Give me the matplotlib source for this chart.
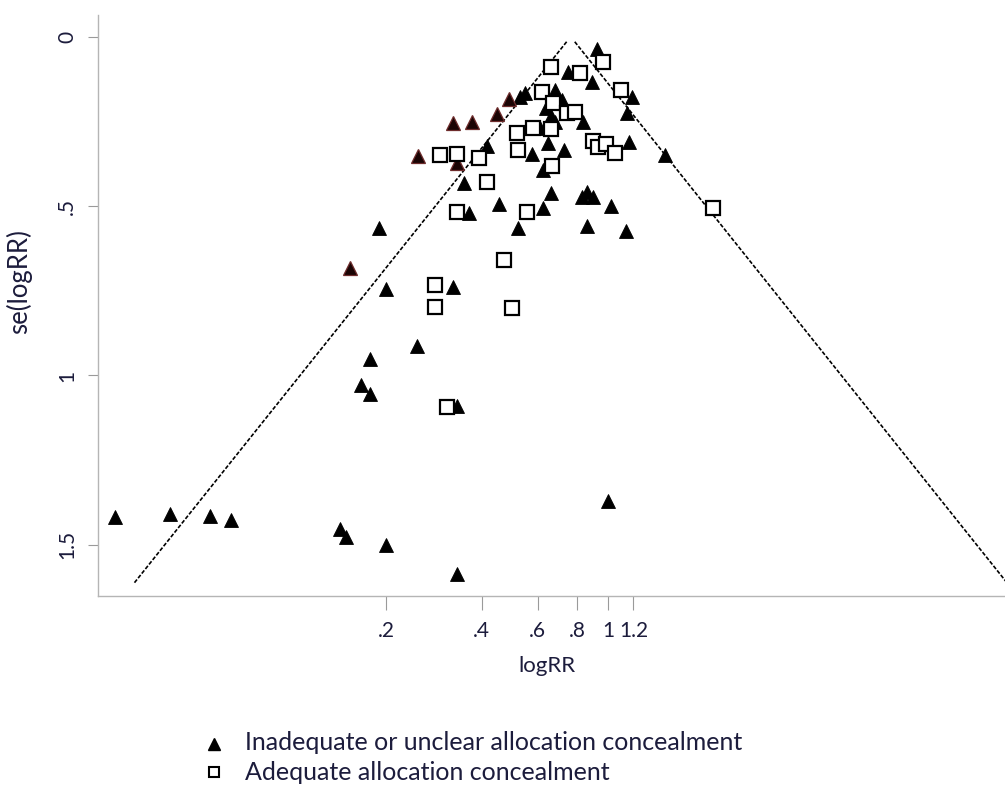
import numpy as np
import matplotlib
matplotlib.use("Agg")
import matplotlib.pyplot as plt
from matplotlib.lines import Line2D

# ---- data ----
# Inadequate or unclear allocation concealment (filled triangles)
inad_logrr = [-0.639, -0.603, -0.082, -0.292, -0.118, 0.172, 0.135,
              -0.386, -0.335, -0.451, -0.415, -0.386, -0.495, -0.183,
              -0.878, -1.045, -0.553, -0.437, -0.321, -0.473, 0.150, 0.411,
              -0.415, -0.190, -0.154, -0.111, 0.020, -0.473, -0.791, -1.009,
              -0.654, -0.154, 0.128, -1.660, -1.610, -1.125,
              -1.385, -1.726, -1.791, -1.726, -1.096,
              -3.572, -3.174, -2.884, -2.732, -1.943, -1.899, -1.610, -1.096,
              -0.002]
inad_se = [0.178, 0.166, 0.036, 0.104, 0.134, 0.178, 0.225,
           0.157, 0.187, 0.211, 0.234, 0.252, 0.270, 0.252,
           0.323, 0.432, 0.346, 0.314, 0.335, 0.394, 0.311, 0.349,
           0.462, 0.473, 0.459, 0.473, 0.500, 0.506, 0.494, 0.521,
           0.565, 0.559, 0.574, 0.565, 0.745, 0.739,
           0.913, 0.952, 1.028, 1.055, 1.090,
           1.418, 1.409, 1.415, 1.427, 1.454, 1.477, 1.501, 1.586,
           1.371]
# a few triangles drawn with a dark reddish tint in the original
inad_tint_logrr = [-1.378, -1.096, -1.125, -0.987, -0.806, -0.719, -1.870]
inad_tint_se = [0.352, 0.373, 0.255, 0.252, 0.228, 0.184, 0.683]

# Adequate allocation concealment (open squares)
adeq_logrr = [-1.096, -0.755, -0.697, -0.589, -0.878, -0.936, -1.219, -1.096,
              -0.654, -0.661, -0.545, -0.415, -0.408, -0.111, -0.075, -0.017,
              0.049, 0.092, -0.038, -0.415, -0.205, -0.480, -0.400, -0.299,
              -0.241, 0.758, -1.255, -1.255, -1.168]
adeq_se = [0.518, 0.659, 0.801, 0.518, 0.429, 0.358, 0.349, 0.346,
           0.335, 0.284, 0.270, 0.273, 0.382, 0.308, 0.326, 0.317,
           0.343, 0.157, 0.075, 0.089, 0.107, 0.163, 0.196, 0.225,
           0.222, 0.506, 0.733, 0.798, 1.092]

pooled_logrr = -0.272
funnel_se_range = [0.015, 1.614]

xtick_rr = [0.2, 0.4, 0.6, 0.8, 1.0, 1.2]
xtick_labels = [".2", ".4", ".6", ".8", "1", "1.2"]
ytick_vals = [0, 0.5, 1, 1.5]
ytick_labels = ["0", ".5", "1", "1.5"]

legend_labels = ["Inadequate or unclear allocation concealment",
                 "Adequate allocation concealment"]

# ---- style ----
plt.rcParams['font.family'] = ['Lato', 'DejaVu Sans']
text_col = '#1c1c3c'
W, H = 1005, 808
fig = plt.figure(figsize=(W / 100, H / 100), dpi=100)
ax = fig.add_axes([98 / W, 1 - 596 / H, (1005 - 98) / W, (596 - 15) / H])

# funnel
se_line = np.linspace(funnel_se_range[0], funnel_se_range[1], 50)
for sgn in (-1, 1):
    ax.plot(pooled_logrr + sgn * 1.96 * se_line, se_line, color='black',
            lw=1.2, dashes=(2.4, 1.1), zorder=1)

ax.plot(inad_logrr, inad_se, ls='none', marker='^', ms=10, mfc='black',
        mec='black', mew=0.6, zorder=3)
ax.plot(inad_tint_logrr, inad_tint_se, ls='none', marker='^', ms=10,
        mfc='#1a0404', mec='#6e2c2c', mew=0.9, zorder=3)
ax.plot(adeq_logrr, adeq_se, ls='none', marker='s', ms=9.5, mfc='white',
        mec='black', mew=1.6, zorder=4)

ax.set_xlim(-3.695, 2.873)
ax.set_ylim(1.651, -0.064)

ax.set_xticks(np.log(xtick_rr))
ax.set_xticklabels(xtick_labels, fontsize=15, color=text_col)
ax.set_yticks(ytick_vals)
ax.set_yticklabels(ytick_labels, fontsize=15, color=text_col, rotation=90,
                   va='center')
ax.tick_params(axis='x', length=10, width=0.8, color='#9a9a9a', pad=8)
ax.tick_params(axis='y', length=7, width=0.8, color='#9a9a9a', pad=8)

for s in ('top', 'right'):
    ax.spines[s].set_visible(False)
for s in ('left', 'bottom'):
    ax.spines[s].set_color('#b5b5b5')
    ax.spines[s].set_linewidth(1.0)

fig.text(547 / W, 1 - 666 / H, "logRR", fontsize=16, color=text_col,
         ha='center', va='center')
fig.text(19 / W, 1 - 282 / H, "se(logRR)", fontsize=18.5, color=text_col,
         ha='center', va='center', rotation=90)

# legend
fig.add_artist(Line2D([214 / W], [1 - 744 / H], transform=fig.transFigure,
                      marker='^', ms=8, mfc='black', mec='black', ls='none'))
fig.add_artist(Line2D([214 / W], [1 - 772 / H], transform=fig.transFigure,
                      marker='s', ms=7.5, mfc='white', mec='black', mew=1.5,
                      ls='none'))
fig.text(245 / W, 1 - 743 / H, legend_labels[0], fontsize=18, color=text_col,
         ha='left', va='center')
fig.text(245 / W, 1 - 772 / H, legend_labels[1], fontsize=18, color=text_col,
         ha='left', va='center')

fig.savefig("out.png", dpi=100)
